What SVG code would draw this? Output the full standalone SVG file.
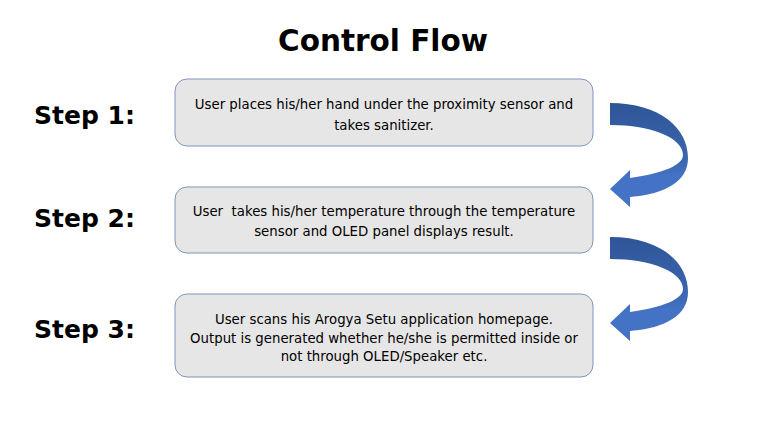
<svg xmlns="http://www.w3.org/2000/svg" width="762" height="431" viewBox="0 0 762 431">
<defs>
<linearGradient id="ag" x1="0" y1="0" x2="0" y2="1">
<stop offset="0" stop-color="#2f5597"/>
<stop offset="0.55" stop-color="#3a66b0"/>
<stop offset="0.7" stop-color="#4472c4"/>
<stop offset="1" stop-color="#4472c4"/>
</linearGradient>
<path id="carrow" d="M 610 103 C 660 103 688 128 688 158 C 688 181 666 194 630 197 L 630 207 L 610 189 L 630 170 L 630 178 C 664 173 683 165 683 155 C 683 138 652 125 610 125 Z"/>
</defs>
<style>
.title{font-family:"Comic Sans MS","DejaVu Sans",sans-serif;font-weight:bold;font-size:29.5px;fill:#000;text-anchor:middle}
.step{font-family:"Comic Sans MS","DejaVu Sans",sans-serif;font-weight:bold;font-size:25px;fill:#000}
.box{fill:#e7e6e6;stroke:#7f94b8;stroke-width:1}
.txt{font-family:"Comic Sans MS","DejaVu Sans",sans-serif;font-size:13.3px;fill:#000;text-anchor:middle;white-space:pre}
.arr{fill:url(#ag)}
</style>
<rect width="762" height="431" fill="#fff"/>
<text class="title" x="383" y="51">Control Flow</text>
<text class="step" x="34" y="124">Step 1:</text>
<text class="step" x="34" y="227">Step 2:</text>
<text class="step" x="34" y="338">Step 3:</text>
<g id="node1">
<rect class="box" x="175" y="79" width="418" height="67" rx="12"/>
<text class="txt" x="384" y="109">User places his/her hand under the proximity sensor and</text>
<text class="txt" x="384" y="130">takes sanitizer.</text>
</g>
<g id="node2">
<rect class="box" x="175" y="187" width="418" height="66" rx="12"/>
<text class="txt" x="384" y="216" xml:space="preserve">User  takes his/her temperature through the temperature</text>
<text class="txt" x="384" y="236">sensor and OLED panel displays result.</text>
</g>
<g id="node3">
<rect class="box" x="175" y="294" width="418" height="83" rx="12"/>
<text class="txt" x="384" y="324">User scans his Arogya Setu application homepage.</text>
<text class="txt" x="384" y="343">Output is generated whether he/she is permitted inside or</text>
<text class="txt" x="384" y="361">not through OLED/Speaker etc.</text>
</g>
<g id="connectors">
<use href="#carrow" class="arr"/>
<use href="#carrow" class="arr" transform="translate(0,134)"/>
</g>
</svg>
